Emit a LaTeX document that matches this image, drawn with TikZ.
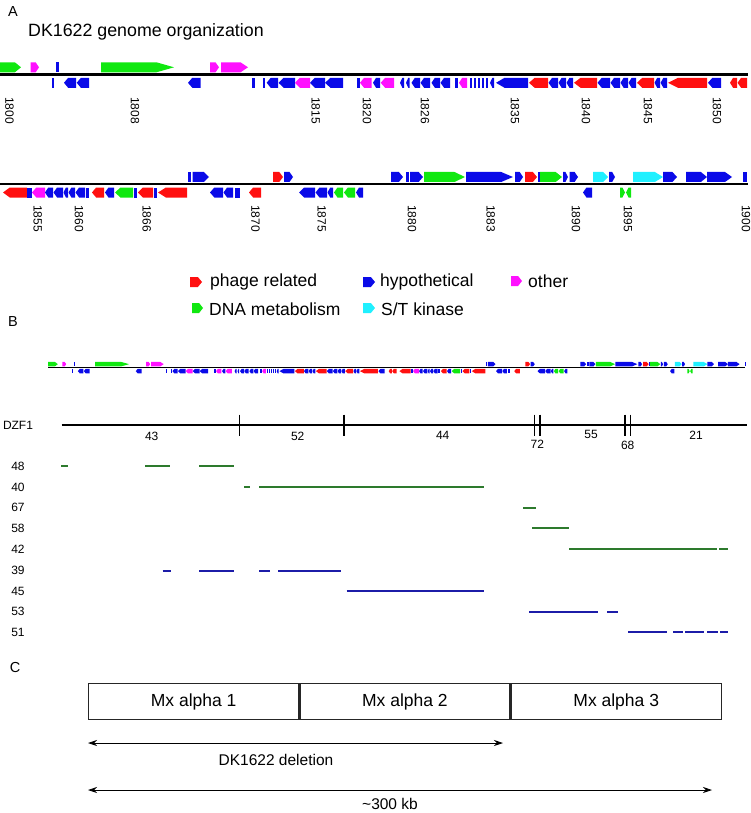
\documentclass[tikz,border=0pt]{standalone}
\usepackage{fontspec}
\setmainfont{Liberation Sans}
\usetikzlibrary{arrows.meta}
\definecolor{gred}{HTML}{FF1010}
\definecolor{gblu}{HTML}{0A0AE8}
\definecolor{gmag}{HTML}{FF10FF}
\definecolor{ggrn}{HTML}{10E810}
\definecolor{gcyn}{HTML}{20F0FF}
\definecolor{bgrn}{HTML}{2D7A2D}
\definecolor{bblu}{HTML}{1C1CA8}
\newcommand\gR[4]{\pgfmathsetmacro\gw{#2-#1}\pgfmathsetmacro\gt{min(0.22*\gw+1.5,\gw)}\fill[#3] (#1,#4) -- (#2-\gt,#4) -- (#2,#4+5) -- (#2-\gt,#4+10) -- (#1,#4+10) -- cycle;}
\newcommand\gL[4]{\pgfmathsetmacro\gw{#2-#1}\pgfmathsetmacro\gt{min(0.22*\gw+1.5,\gw)}\fill[#3] (#2,#4) -- (#1+\gt,#4) -- (#1,#4+5) -- (#1+\gt,#4+10) -- (#2,#4+10) -- cycle;}
\newcommand\gB[4]{\fill[#3] (#1,#4) rectangle (#2,#4+10);}
\def\U{-12}\def\D{3.5}
\newcommand\rowone{%
\gR{0}{21}{ggrn}{\U}\gR{30.7}{39}{gmag}{\U}\gB{56}{58.5}{gblu}{\U}\gR{101}{174}{ggrn}{\U}\gR{210}{219}{gmag}{\U}\gR{221}{248}{gmag}{\U}%
\gB{51.7}{54.3}{gblu}{\D}\gL{64}{76}{gblu}{\D}\gL{76.7}{89}{gblu}{\D}\gL{188}{200.7}{gblu}{\D}\gB{252}{255}{gblu}{\D}\gB{263}{265}{gblu}{\D}%
\gL{266.7}{278}{gblu}{\D}\gL{278.5}{295}{gblu}{\D}\gL{295}{310}{gmag}{\D}\gL{310}{325}{gblu}{\D}\gL{325}{343}{gblu}{\D}%
\gB{356.7}{359.5}{gblu}{\D}\gL{360}{371.7}{gmag}{\D}\gL{373}{380}{gblu}{\D}\gL{380.7}{394}{gmag}{\D}%
\gL{400}{404}{gblu}{\D}\gL{406}{409.5}{gblu}{\D}\gL{411.5}{420}{gblu}{\D}\gL{420.5}{430}{gblu}{\D}\gL{431.5}{440}{gblu}{\D}\gL{440.5}{450}{gblu}{\D}%
\gB{455}{457.5}{gblu}{\D}\gL{459}{467}{gmag}{\D}\gB{470}{472}{gblu}{\D}\gB{474}{476}{gblu}{\D}\gB{478}{480}{gblu}{\D}\gB{482}{484}{gblu}{\D}\gB{486}{488}{gblu}{\D}\gL{490}{494}{gblu}{\D}%
\gL{496}{528}{gblu}{\D}\gL{529}{548}{gred}{\D}\gL{548.5}{558}{gblu}{\D}\gL{558.5}{566}{gblu}{\D}\gL{566.5}{573}{gblu}{\D}\gL{574}{597}{gred}{\D}%
\gL{597.5}{610}{gblu}{\D}\gL{610.5}{620}{gblu}{\D}\gL{620.5}{628}{gblu}{\D}\gL{628.5}{636}{gblu}{\D}\gL{637}{654}{gred}{\D}%
\gL{654.5}{660}{gblu}{\D}\gL{660.5}{667}{gblu}{\D}\gL{668}{707}{gred}{\D}\gL{708}{721}{gblu}{\D}\gL{730}{737}{gred}{\D}\gL{737.5}{747}{gred}{\D}}
\newcommand\rowtwo{%
\gB{188}{191}{gblu}{\U}\gR{192.5}{209}{gblu}{\U}\gR{273}{283}{gred}{\U}\gR{284}{293}{gblu}{\U}%
\gR{391}{403}{gblu}{\U}\gB{406}{409}{gblu}{\U}\gR{410}{423}{gblu}{\U}\gR{424}{465}{ggrn}{\U}\gR{466}{513}{gblu}{\U}%
\gR{515}{523}{gblu}{\U}\gR{525}{537}{gred}{\U}\gB{537.5}{540}{gblu}{\U}\gR{540}{562}{ggrn}{\U}\gR{563}{568}{gblu}{\U}\gR{569.5}{578}{gblu}{\U}%
\gR{593}{608}{gcyn}{\U}\gR{609}{615}{gblu}{\U}\gR{633}{663}{gcyn}{\U}\gR{663}{677}{gblu}{\U}\gR{686}{707}{gblu}{\U}\gR{707}{732}{gblu}{\U}\gB{743}{746.5}{gblu}{\U}%
\gL{3}{27}{gred}{\D}\gB{27}{31.5}{gblu}{\D}\gL{32}{45}{gmag}{\D}%
\gL{45}{53}{gblu}{\D}\gL{53.5}{63}{gblu}{\D}\gL{63.5}{68}{gblu}{\D}\gL{68.5}{75}{gblu}{\D}\gL{75.5}{85}{gblu}{\D}\gB{85.5}{89}{gblu}{\D}%
\gL{92}{104}{gred}{\D}\gL{105}{114}{gblu}{\D}\gL{115}{133}{ggrn}{\D}\gB{134}{136.5}{gblu}{\D}\gL{138}{153}{gred}{\D}\gB{154}{157}{gblu}{\D}\gL{158}{187}{gred}{\D}%
\gL{210}{223}{gblu}{\D}\gL{223.5}{233}{gblu}{\D}\gB{235}{240}{gblu}{\D}\gL{249}{261}{gred}{\D}%
\gL{299}{315}{gblu}{\D}\gL{315.5}{327}{gblu}{\D}\gL{327.5}{333}{gblu}{\D}\gL{334}{343}{ggrn}{\D}\gL{344}{355}{ggrn}{\D}\gL{356}{363}{gblu}{\D}%
\gL{583}{592}{gblu}{\D}\gR{620}{625}{ggrn}{\D}\gL{626}{631}{ggrn}{\D}}
\begin{document}
\begin{tikzpicture}[x=1pt,y=-1pt,
  glab/.style={font=\fontsize{14.5}{16}\selectfont,inner sep=0},
  gpos/.style={font=\fontsize{12}{14}\selectfont,rotate=-90,anchor=west,inner sep=0},
  gleg/.style={font=\fontsize{17.5}{20}\selectfont,anchor=west,inner sep=0},
  gsmall/.style={font=\fontsize{12}{14}\selectfont,inner sep=0},
  gbar/.style={line width=2.2},
  abox/.style={draw=black!85,line width=1.3,minimum width=210,minimum height=36,inner sep=0,font=\fontsize{17.5}{20}\selectfont},
  gdbl/.style={{Stealth[length=9,width=6]}-{Stealth[length=9,width=6]},line width=0.8},
  gctext/.style={font=\fontsize{15.5}{18}\selectfont,inner sep=0}]
\useasboundingbox (0,0) rectangle (750,813);
% ---------- Panel A
\node[glab] (la) at (13,12) {A};
\node[gleg,font=\fontsize{17.8}{20}\selectfont] (title) at (28,32) {DK1622 genome organization};
\draw[line width=2.7] (0,74.3) -- (748,74.3);
\begin{scope}[shift={(0,74.3)}]\rowone\end{scope}
\foreach \x/\t in {9.5/1800,135/1808,315.7/1815,367/1820,425/1826,515/1835,586/1840,648/1845,717/1850}
  \node[gpos] at (\x,97) {\t};
\draw[line width=2.7] (0,184) -- (748,184);
\begin{scope}[shift={(0,184)}]\rowtwo\end{scope}
\foreach \x/\t in {37.7/1855,79/1860,146.7/1866,255.5/1870,321.7/1875,412/1880,490.7/1883,576/1890,628/1895,746/1900}
  \node[gpos] at (\x,205) {\t};
% legend
\gR{190}{202}{gred}{277}\node[gleg] (l1) at (210,282) {phage related};
\gR{363}{375}{gblu}{277}\node[gleg] (l2) at (380,282) {hypothetical};
\gR{511}{522}{gmag}{276}\node[gleg] (l3) at (528,281) {other};
\gR{192}{203}{ggrn}{303}\node[gleg] (l4) at (209,309) {DNA metabolism};
\gR{363}{375}{gcyn}{303}\node[gleg] (l5) at (381,309) {S/T kinase};
% ---------- Panel B
\node[glab] (lb) at (13,322) {B};
\draw[line width=1.6] (48,367.3) -- (745,367.3);
\begin{scope}[shift={(48,367.3)},xscale=0.4667,yscale=0.45]\rowone\end{scope}
\begin{scope}[shift={(398,367.3)},xscale=0.4667,yscale=0.45]\rowtwo\end{scope}
\node[gsmall] (dzf) at (18,425) {DZF1};
\draw[line width=1.1] (61.7,425) -- (746.7,425);
\foreach \x in {239.3,344,534.3,540,625,630.7} \draw[line width=1.1] (\x,414.5) -- (\x,435.5);
\foreach \x/\y/\t in {151.7/436/43,297.7/436/52,442.7/435/44,537.3/444/72,591/434/55,627.7/445/68,696/435/21}
  \node[gsmall] at (\x,\y) {\t};
\foreach \y/\t in {466/48,487.3/40,507.7/67,528.3/58,549.3/42,570.7/39,591/45,611.7/53,632.3/51}
  \node[gsmall] at (18,\y) {\t};
\begin{scope}[gbar,bgrn]
\draw (61,466) -- (68.3,466); \draw (145,466) -- (170,466); \draw (199,466) -- (234.3,466);
\draw (244.3,487.3) -- (250,487.3); \draw (259,487.3) -- (484,487.3);
\draw (523.3,507.7) -- (535.7,507.7);
\draw (532.3,528.3) -- (569.3,528.3);
\draw (569.3,549.3) -- (716.7,549.3); \draw (719.3,549.3) -- (728.3,549.3);
\end{scope}
\begin{scope}[gbar,bblu]
\draw (162.7,570.7) -- (170.7,570.7); \draw (199,570.7) -- (234.3,570.7); \draw (259,570.7) -- (270,570.7); \draw (278.3,570.7) -- (341,570.7);
\draw (346.7,591) -- (484,591);
\draw (529,611.7) -- (598.3,611.7); \draw (607.3,611.7) -- (617.7,611.7);
\draw (628.3,632.3) -- (667.3,632.3); \draw (673.3,632.3) -- (682.7,632.3); \draw (685,632.3) -- (704,632.3); \draw (707.3,632.3) -- (718,632.3); \draw (720,632.3) -- (728.3,632.3);
\end{scope}
% ---------- Panel C
\node[glab] (lc) at (15,668) {C};
\node[abox,anchor=north west] (m1) at (88,683) {Mx alpha 1};
\node[abox,anchor=west] (m2) at (m1.east) {Mx alpha 2};
\node[abox,anchor=west] (m3) at (m2.east) {Mx alpha 3};
\coordinate (d1) at (88,743); \coordinate (d2) at (503,743);
\draw[gdbl] (d1) -- (d2);
\node[gctext] (dt) at (276,760) {DK1622 deletion};
\coordinate (k1) at (88,790); \coordinate (k2) at (712,790);
\draw[gdbl] (k1) -- (k2);
\node[gctext] (kt) at (390,804) {\textasciitilde300 kb};
\end{tikzpicture}
\end{document}
